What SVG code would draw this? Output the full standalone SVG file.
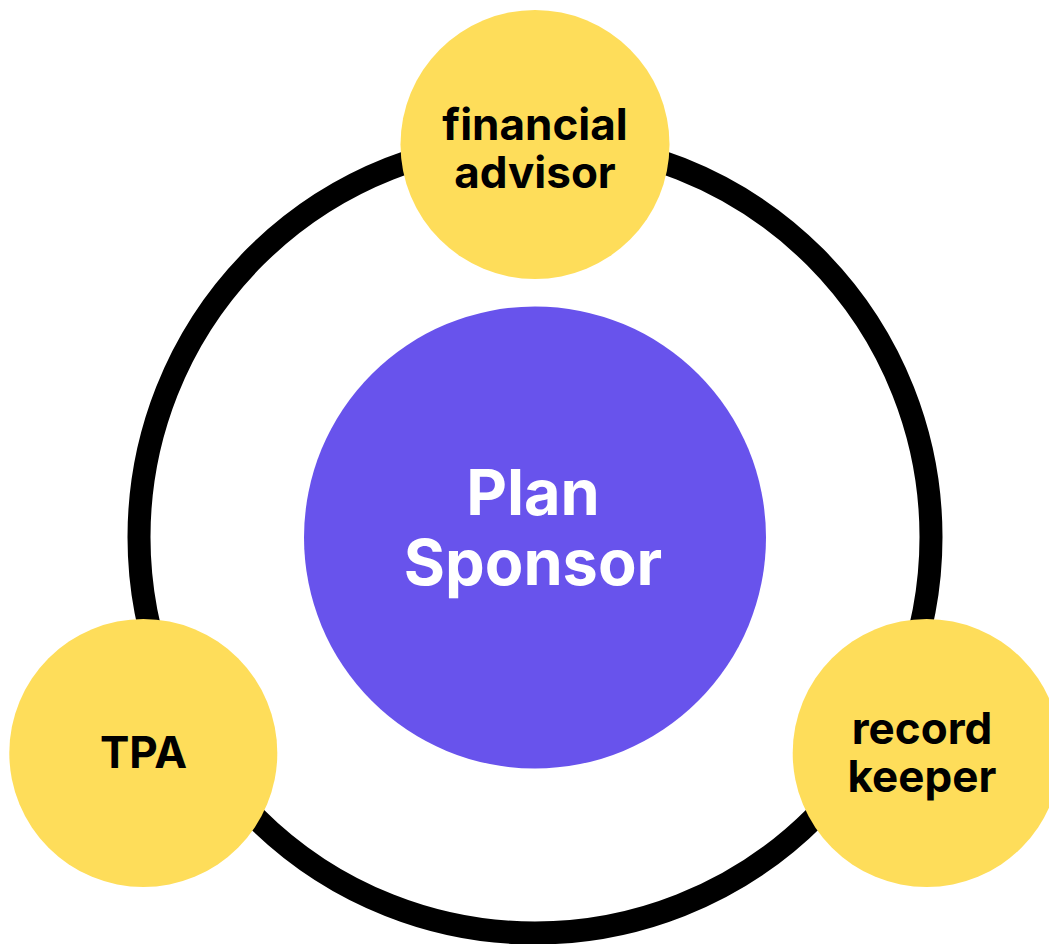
<svg xmlns="http://www.w3.org/2000/svg" width="1049" height="944" viewBox="0 0 1049 944">
  <style>
    .ring { fill: none; stroke: #000000; stroke-width: 23; }
    .hub { fill: #6853EC; }
    .party { fill: #FEDD5A; }
    .label { font-family: Inter, "Liberation Sans", sans-serif; font-weight: 700; text-anchor: middle; }
    .dark { fill: #000000; font-size: 44px; }
    .light { fill: #FFFFFF; font-size: 63px; }
  </style>
  <rect width="1049" height="944" fill="#FFFFFF"/>
  <g id="connectors">
    <circle class="ring" cx="535" cy="537" r="396"/>
  </g>
  <g id="plan-sponsor">
    <circle class="hub" cx="535" cy="537.5" r="231"/>
    <text class="label light" x="533" y="515">Plan</text>
    <text class="label light" x="533" y="585">Sponsor</text>
  </g>
  <g id="financial-advisor">
    <circle class="party" cx="535" cy="144.5" r="134.5"/>
    <text class="label dark" x="535" y="140">financial</text>
    <text class="label dark" x="535" y="188">advisor</text>
  </g>
  <g id="tpa">
    <circle class="party" cx="143.3" cy="753" r="134"/>
    <text class="label dark" x="143.5" y="768">TPA</text>
  </g>
  <g id="record-keeper">
    <circle class="party" cx="926.7" cy="753" r="134"/>
    <text class="label dark" x="922" y="744">record</text>
    <text class="label dark" x="922" y="792">keeper</text>
  </g>
</svg>
